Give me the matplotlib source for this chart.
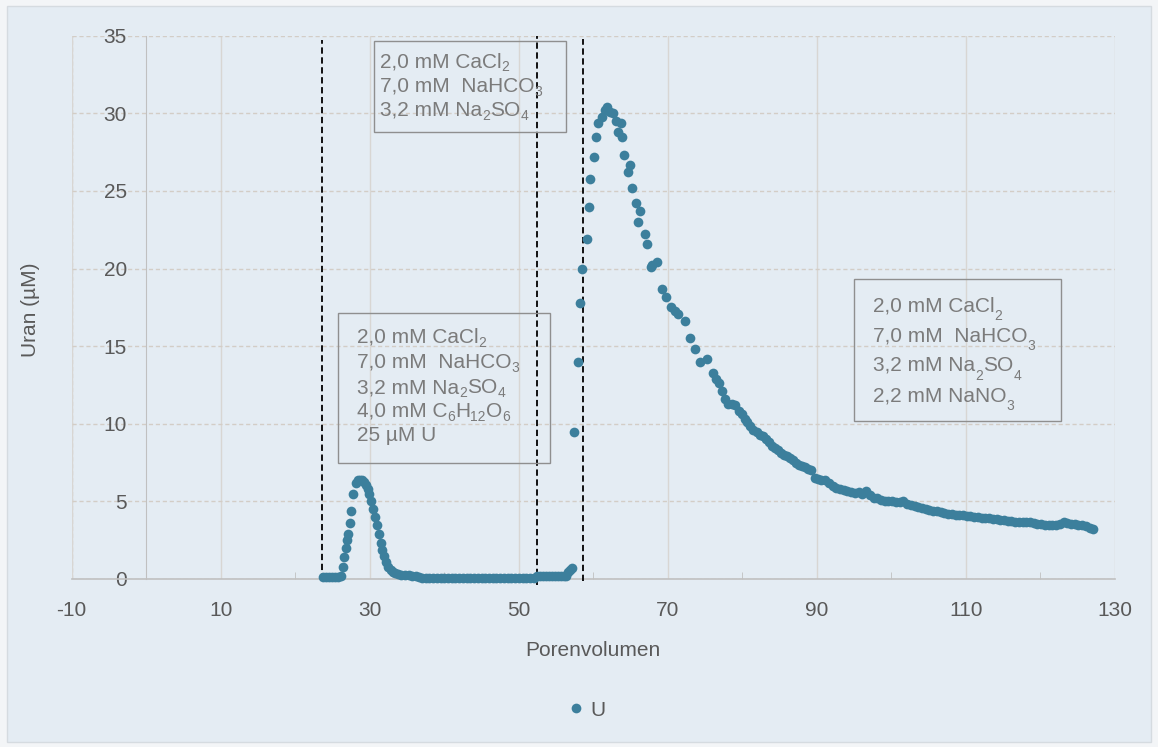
import matplotlib
matplotlib.use('Agg')
import matplotlib.pyplot as plt
from matplotlib.patches import Rectangle
from matplotlib.lines import Line2D

plt.rcParams['font.family'] = ['Liberation Sans', 'DejaVu Sans']
plt.rcParams['axes.unicode_minus'] = False

# ---------------- data ----------------
porenvolumen = [
    23.7, 24.1, 24.5, 24.9, 25.3, 25.7, 26.1,
    26.4, 26.6, 26.8, 26.9, 27.1, 27.3, 27.5, 27.8, 28.1, 28.4, 28.7,
    28.9, 29.2, 29.45, 29.7, 29.95, 30.2, 30.45, 30.7, 30.95, 31.2, 31.45, 31.7, 31.95,
    32.2, 32.5, 32.8, 33.1, 33.4, 33.8, 34.2, 34.7, 35.2, 35.7, 36.2, 36.6,
    37.0, 37.5, 38.0, 38.5, 39.0, 39.5, 40.0, 40.5, 41.0, 41.5, 42.0, 42.5, 43.0, 43.5,
    44.0, 44.5, 45.0, 45.5, 46.0, 46.5, 47.0, 47.5, 48.0, 48.5, 49.0, 49.5, 50.0, 50.5,
    51.0, 51.5, 52.0,
    52.4, 52.8, 53.2, 53.6, 54.0, 54.4, 54.8, 55.2, 55.6, 56.0, 56.3, 56.6, 56.9, 57.1,
    57.4, 58.0, 58.2, 58.5, 59.1, 59.4, 59.6, 60.1, 60.3, 60.6, 61.1, 61.5, 61.8, 62.2,
    62.7, 63.1, 63.3, 63.7, 63.8, 64.1, 64.7, 64.9, 65.2, 65.7, 66.0, 66.2, 66.9, 67.2,
    67.8, 67.9, 68.5, 69.2, 69.8, 70.4, 71.0, 71.4, 72.3, 73.0, 73.6, 74.3, 75.2,
    76.0, 76.5, 76.8, 77.3, 77.7, 78.1, 78.6, 79.0, 79.5, 79.9, 80.3, 80.6, 81.0, 81.4,
    82.0, 82.4, 82.8, 83.2, 83.6, 84.0, 84.4, 84.8, 85.2, 85.6, 86.0, 86.4, 86.8, 87.2,
    87.6, 88.0, 88.4, 88.8, 89.2,
    89.7, 90.1, 90.6, 91.1, 91.6, 92.1, 92.6, 93.1, 93.6, 94.1, 94.6, 95.1, 95.6, 96.1,
    96.6, 97.1, 97.6, 98.1, 98.6, 99.1, 99.6, 100.1, 100.6, 101.1, 101.6, 102.1, 102.6,
    103.1, 103.6, 104.1, 104.6, 105.1, 105.6, 106.1, 106.6, 107.1, 107.6, 108.1, 108.6,
    109.1, 109.6, 110.1, 110.6, 111.1, 111.6, 112.1, 112.6, 113.1, 113.6, 114.1, 114.6,
    115.1, 115.6, 116.1, 116.6, 117.1, 117.6, 118.1, 118.6, 119.1, 119.6, 120.1, 120.6,
    121.1, 121.6, 122.1, 122.6, 123.1, 123.6, 124.1, 124.6, 125.1, 125.6, 126.1, 126.6, 127.0,
]
uran = [
    0.15, 0.15, 0.15, 0.15, 0.15, 0.15, 0.2,
    0.8, 1.4, 2.0, 2.5, 2.9, 3.6, 4.4, 5.5, 6.2, 6.35, 6.4,
    6.38, 6.25, 6.05, 5.8, 5.45, 5.0, 4.5, 4.0, 3.45, 2.9, 2.35, 1.85, 1.45,
    1.1, 0.8, 0.6, 0.45, 0.37, 0.3, 0.27, 0.25, 0.25, 0.22, 0.2, 0.15,
    0.05, 0.04, 0.05, 0.04, 0.05, 0.05, 0.04, 0.05, 0.05, 0.04, 0.05, 0.05, 0.04, 0.05,
    0.05, 0.04, 0.05, 0.05, 0.04, 0.05, 0.05, 0.04, 0.05, 0.05, 0.04, 0.05, 0.05, 0.04,
    0.05, 0.05, 0.06,
    0.19, 0.2, 0.19, 0.2, 0.19, 0.2, 0.19, 0.2, 0.19, 0.2, 0.22, 0.45, 0.6, 0.7,
    9.5, 14.0, 17.8, 20.0, 21.9, 23.95, 25.8, 27.2, 28.5, 29.4, 29.8, 30.2, 30.4, 30.1,
    30.0, 29.5, 28.8, 29.4, 28.5, 27.3, 26.2, 26.7, 25.2, 24.2, 23.0, 23.7, 22.2, 21.6,
    20.1, 20.2, 20.4, 18.7, 18.2, 17.5, 17.3, 17.1, 16.6, 15.5, 14.8, 14.0, 14.2,
    13.3, 12.9, 12.6, 12.1, 11.6, 11.3, 11.25, 11.2, 10.8, 10.6, 10.3, 10.1, 9.85, 9.6,
    9.45, 9.3, 9.2, 9.0, 8.8, 8.6, 8.45, 8.3, 8.15, 8.0, 7.9, 7.8, 7.65, 7.5,
    7.35, 7.3, 7.2, 7.1, 7.0,
    6.5, 6.45, 6.4, 6.35, 6.2, 6.0, 5.85, 5.8, 5.75, 5.7, 5.6, 5.55, 5.6, 5.5,
    5.65, 5.4, 5.25, 5.2, 5.1, 5.05, 5.0, 5.05, 4.95, 4.95, 5.0, 4.85, 4.8,
    4.7, 4.65, 4.6, 4.5, 4.45, 4.4, 4.35, 4.3, 4.25, 4.2, 4.2, 4.15,
    4.1, 4.1, 4.05, 4.05, 4.0, 4.0, 3.95, 3.9, 3.9, 3.85, 3.85, 3.8,
    3.8, 3.75, 3.75, 3.7, 3.7, 3.7, 3.65, 3.65, 3.6, 3.55, 3.55, 3.5,
    3.5, 3.45, 3.5, 3.55, 3.65, 3.6, 3.55, 3.55, 3.5, 3.5, 3.4, 3.3, 3.2,
]
x_ticks = [-10, 10, 30, 50, 70, 90, 110, 130]
x_minor = [0, 20, 40, 60, 80, 100, 120]
y_ticks = [0, 5, 10, 15, 20, 25, 30, 35]
phase_bounds = [23.6, 52.5, 58.6]

box1_lines = [[("2,0 mM CaCl", 0), ("2", 1)],
              [("7,0 mM  NaHCO", 0), ("3", 1)],
              [("3,2 mM Na", 0), ("2", 1), ("SO", 0), ("4", 1)]]
box2_lines = [[("2,0 mM CaCl", 0), ("2", 1)],
              [("7,0 mM  NaHCO", 0), ("3", 1)],
              [("3,2 mM Na", 0), ("2", 1), ("SO", 0), ("4", 1)],
              [("4,0 mM C", 0), ("6", 1), ("H", 0), ("12", 1), ("O", 0), ("6", 1)],
              [("25 µM U", 0)]]
box3_lines = [[("2,0 mM CaCl", 0), ("2", 1)],
              [("7,0 mM  NaHCO", 0), ("3", 1)],
              [("3,2 mM Na", 0), ("2", 1), ("SO", 0), ("4", 1)],
              [("2,2 mM NaNO", 0), ("3", 1)]]

# ---------------- figure ----------------
W, H = 1158, 747
BG = '#e4ecf3'
fig = plt.figure(figsize=(W / 100, H / 100), dpi=100)
fig.patch.set_facecolor('#f3f5f7')


def fx(px):
    return px / W


def fy(py):
    return 1 - py / H


fig.add_artist(Rectangle((fx(7), fy(742)), fx(1151) - fx(7), fy(6) - fy(742),
                         transform=fig.transFigure, facecolor=BG,
                         edgecolor='#d5dbe0', lw=1, zorder=-10))

L, R, T, B = 71.7, 1115.0, 35.8, 579.0
ax = fig.add_axes([fx(L), fy(B), fx(R) - fx(L), fy(T) - fy(B)])
ax.set_facecolor('none')
ax.set_xlim(-10, 130)
ax.set_ylim(0, 35)

for s in ['top', 'right']:
    ax.spines[s].set_visible(False)
ax.spines['left'].set_position(('data', 0))
ax.spines['left'].set_color('#c0c0c0')
ax.spines['bottom'].set_color('#c0c0c0')
ax.spines['bottom'].set_linewidth(1.2)

ax.set_xticks(x_ticks)
ax.set_xticks(x_minor, minor=True)
ax.set_yticks(y_ticks)
ax.tick_params(axis='x', which='major', length=0, pad=16, labelsize=15, labelcolor='#595959')
ax.tick_params(axis='x', which='minor', direction='in', length=5, color='#c0c0c0')
ax.tick_params(axis='y', length=0, pad=14, labelsize=15, labelcolor='#595959')

ax.grid(axis='x', which='major', color='#d8d6d3', lw=1.0, ls='-')
ax.grid(axis='y', which='major', color='#d3cdc6', lw=1.0, ls=(0, (3, 2)))
ax.set_axisbelow(True)
ax.axvline(-10, color='#d3cdc6', lw=1.0, ls=(0, (3, 2)), zorder=0)

ax.set_xlabel('Porenvolumen', fontsize=15, color='#595959')
ax.xaxis.set_label_coords(0.5, (B - 641) / (B - T))
ax.set_ylabel('Uran (µM)', fontsize=15, color='#595959')
ax.yaxis.set_label_coords((40 - L) / (R - L), (B - 310) / (B - T))

# phase boundaries
ymins = [-0.05, -0.4, -0.1]
ymaxs = [34.7, 35.0, 34.8]
for xb, y0, y1 in zip(phase_bounds, ymins, ymaxs):
    ax.add_line(Line2D([xb, xb], [y0, y1], color='black', lw=1.3,
                       ls=(0, (3.5, 2)), zorder=4, clip_on=False))

ax.plot(porenvolumen, uran, ls='none', marker='o', ms=7, mew=0,
        color='#3c7f9c', label='U', zorder=5, clip_on=False)

ax.legend(loc='center', bbox_to_anchor=(fx(588), fy(710)), bbox_transform=fig.transFigure,
          frameon=False, fontsize=15, handlelength=0.6, handletextpad=0.4,
          labelcolor='#595959', markerscale=1.0)

# ---------------- annotation boxes ----------------
TXT = '#7b7b7b'
renderer = fig.canvas.get_renderer()


def draw_box(rect, lines, x0, baselines, sub_drop):
    (x1, y1, x2, y2) = rect
    fig.add_artist(Rectangle((fx(x1), fy(y2)), fx(x2) - fx(x1), fy(y1) - fy(y2),
                             transform=fig.transFigure, fill=False,
                             edgecolor='#8f8f8f', lw=1.0, zorder=6))
    for segs, base in zip(lines, baselines):
        cx = x0
        for txt, sub in segs:
            if sub:
                t = fig.text(fx(cx), fy(base + sub_drop), txt, fontsize=10, color=TXT,
                             ha='left', va='baseline', zorder=7)
            else:
                t = fig.text(fx(cx), fy(base), txt, fontsize=15, color=TXT,
                             ha='left', va='baseline', zorder=7)
            bb = t.get_window_extent(renderer)
            cx += bb.width


draw_box((374, 41, 566, 132), box1_lines, 380, [67, 92, 116], 4)
draw_box((338, 313, 550, 463), box2_lines, 357, [343, 368, 393, 417, 441], 4)
draw_box((854, 279, 1061, 421), box3_lines, 873, [311, 341, 371, 401], 9)

fig.savefig('out.png', dpi=100, facecolor=fig.get_facecolor())
